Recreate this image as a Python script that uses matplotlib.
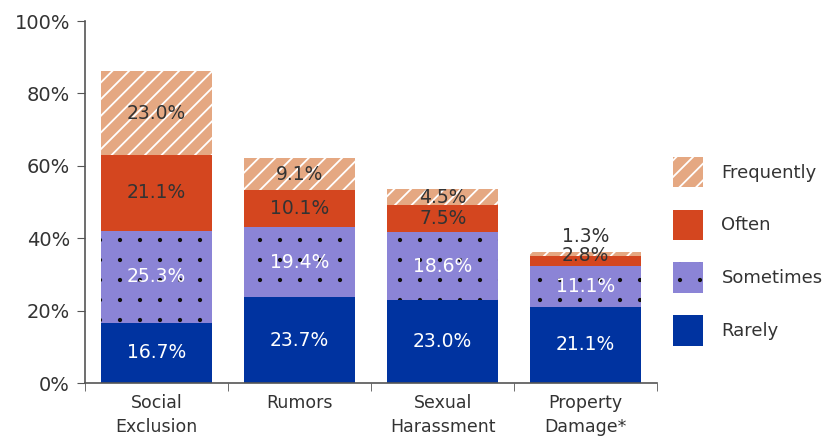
import matplotlib.pyplot as plt
import matplotlib.hatch as mhatch
from matplotlib.path import Path
import numpy as np

plt.rcParams['font.family'] = ['DejaVu Sans']
plt.rcParams['hatch.linewidth'] = 1.3


class DotGrid(mhatch.HatchPatternBase):
    # square (not staggered) grid of small dots for the '.' hatch
    def __init__(self, hatch, density):
        self.n = 5 if '.' in hatch else 0
        self.circle = Path.unit_circle()
        self.num_vertices = (self.n + 1) ** 2 * len(self.circle.vertices) if self.n else 0

    def set_vertices_and_codes(self, vertices, codes):
        step = 1.0 / self.n
        v = self.circle.vertices * 0.012
        vparts, cparts = [], []
        for r in range(self.n + 1):
            for c in range(self.n + 1):
                vparts.append(v + [c * step, r * step])
                cparts.append(self.circle.codes)
        np.concatenate(vparts, out=vertices)
        np.concatenate(cparts, out=codes)


mhatch._hatch_types = [DotGrid if t is mhatch.SmallFilledCircles else t
                       for t in mhatch._hatch_types]

categories = ['Social\nExclusion', 'Rumors', 'Sexual\nHarassment', 'Property\nDamage*']
rarely = [16.7, 23.7, 23.0, 21.1]
sometimes = [25.3, 19.4, 18.6, 11.1]
often = [21.1, 10.1, 7.5, 2.8]
frequently = [23.0, 9.1, 4.5, 1.3]

series = [
    ('Rarely', rarely, '#0033A0', None, '#0033A0', 'white'),
    ('Sometimes', sometimes, '#8B84D6', '.', '#111111', 'white'),
    ('Often', often, '#D4461F', None, '#D4461F', '#333333'),
    ('Frequently', frequently, '#E5A882', '//', 'white', '#333333'),
]

fig = plt.figure(figsize=(8.27, 4.4), dpi=100)
ax = fig.add_axes([0.103, 0.1295, 0.6917, 0.8225])

x = np.arange(len(categories))
bottom = np.zeros(len(categories))
handles = {}
for name, vals, color, hatch, ec, tc in series:
    vals = np.array(vals)
    bars = ax.bar(x, vals, 0.776, bottom=bottom, color=color, hatch=hatch,
                  edgecolor=ec, linewidth=0)
    handles[name] = bars
    for i, v in enumerate(vals):
        yc = bottom[i] + v / 2
        # small segments of the last bar get their labels nudged upward
        if i == 3 and name == 'Frequently':
            yc = bottom[i] + v + 4.3
        elif i == 3 and name == 'Often':
            yc = bottom[i] + v / 2 + 1.5
        ax.text(x[i], yc, f'{v:.1f}%', ha='center', va='center',
                color=tc, fontsize=13.5)
    bottom += vals

ax.set_ylim(0, 100)
ax.set_xlim(-0.5, 3.5)
ax.set_yticks(range(0, 101, 20))
ax.set_yticklabels([f'{t}%' for t in range(0, 101, 20)], fontsize=14, color='#333333')
ax.set_xticks(x)
ax.set_xticklabels(categories, fontsize=12.5, color='#333333', linespacing=1.45)
ax.tick_params(axis='x', length=0, pad=8)
ax.set_xticks(np.arange(-0.5, 4, 1), minor=True)
ax.tick_params(axis='x', which='minor', length=6, color='#555555')
ax.tick_params(axis='y', length=6, color='#555555', pad=5)
for s in ['top', 'right']:
    ax.spines[s].set_visible(False)
for s in ['left', 'bottom']:
    ax.spines[s].set_color('#555555')
    ax.spines[s].set_linewidth(1.2)

order = ['Frequently', 'Often', 'Sometimes', 'Rarely']
leg = ax.legend([handles[n] for n in order], order, loc='upper left',
                bbox_to_anchor=(1.028, 0.625), frameon=False, fontsize=13,
                handlelength=1.67, handleheight=2.2, labelspacing=1.25,
                handletextpad=1.0, borderpad=0, borderaxespad=0)
for t in leg.get_texts():
    t.set_color('#333333')

fig.savefig('out.png', dpi=100)
